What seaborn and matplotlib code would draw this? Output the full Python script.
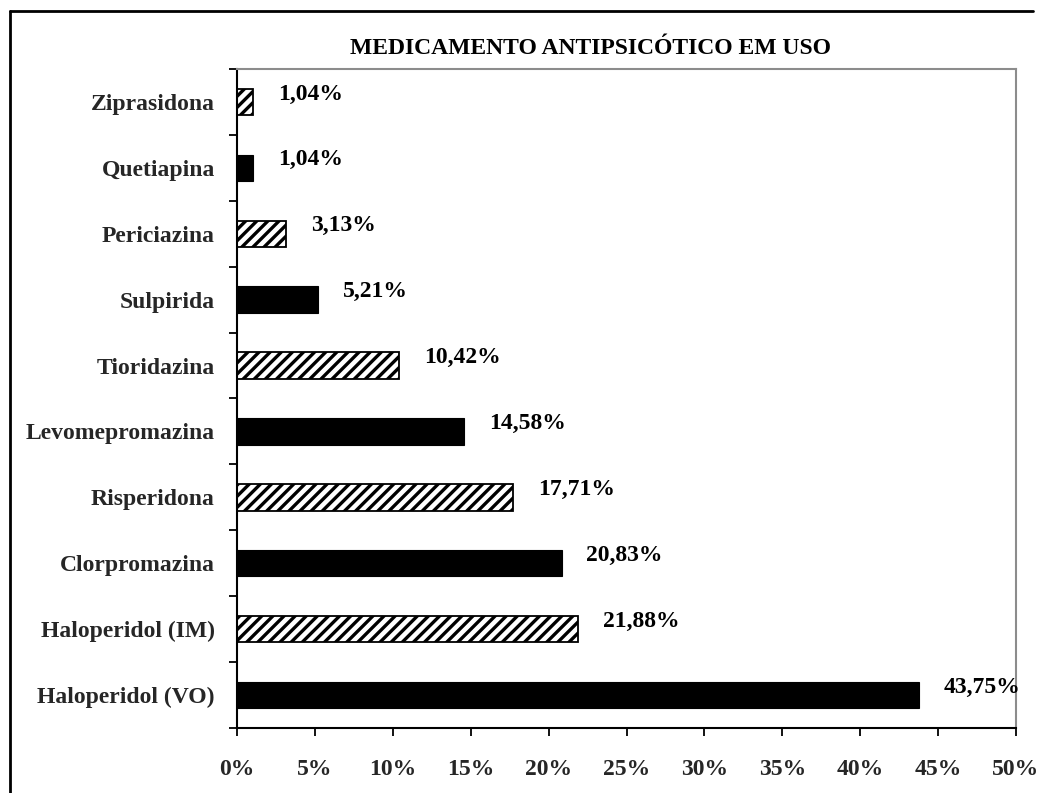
import matplotlib
matplotlib.use("Agg")
import matplotlib.pyplot as plt
import seaborn as sns
import numpy as np
import pandas as pd
from matplotlib.lines import Line2D
from matplotlib.ticker import FixedLocator

# ---------------- data ----------------
categories = ["Ziprasidona", "Quetiapina", "Periciazina", "Sulpirida", "Tioridazina",
              "Levomepromazina", "Risperidona", "Clorpromazina", "Haloperidol (IM)",
              "Haloperidol (VO)"]
values = [1.04, 1.04, 3.13, 5.21, 10.42, 14.58, 17.71, 20.83, 21.88, 43.75]
hatched = [True, False, True, False, True, False, True, False, True, False]
x_ticks = [0, 5, 10, 15, 20, 25, 30, 35, 40, 45, 50]
title = "MEDICAMENTO ANTIPSICÓTICO EM USO"

df = pd.DataFrame({"cat": categories, "val": values})

sns.set_theme(style="white")
plt.rcParams["font.family"] = ["Liberation Serif", "DejaVu Serif"]
plt.rcParams["font.weight"] = "bold"
plt.rcParams["hatch.linewidth"] = 2.4
plt.rcParams["hatch.color"] = "black"

W, H = 1043, 793
fig = plt.figure(figsize=(W / 100, H / 100), dpi=100)
fig.patch.set_facecolor("white")
ax = fig.add_axes([237 / W, 1 - 728 / H, (1016 - 237) / W, (728 - 69) / H])

sns.barplot(data=df, x="val", y="cat", order=categories, orient="h", width=0.4,
            color="black", ax=ax, saturation=1)

for patch, h in zip(ax.patches, hatched):
    if h:
        patch.set_facecolor("white")
        patch.set_hatch("///")
        patch.set_edgecolor("black")
        patch.set_linewidth(1.3)
    else:
        patch.set_facecolor("black")
        patch.set_edgecolor("black")
        patch.set_linewidth(0.8)

ax.set_xlim(0, 50)
ax.set_ylim(len(categories) - 0.5, -0.5)
ax.set_xlabel("")
ax.set_ylabel("")

ax.set_xticks(x_ticks)
ax.set_xticklabels([f"{t}%" for t in x_ticks], fontsize=17, fontweight="bold")
ax.tick_params(axis="x", direction="out", length=6, width=1.3, color="black", pad=16, bottom=True)

ax.set_yticks(range(len(categories)))
ax.set_yticklabels(categories, fontsize=17, fontweight="bold")
ax.tick_params(axis="y", which="major", length=0, pad=16)
ax.yaxis.set_minor_locator(FixedLocator(np.arange(-0.5, len(categories), 1.0)))
ax.tick_params(axis="y", which="minor", direction="out", length=6, width=1.3, color="black", left=True)

for v, i in zip(values, range(len(categories))):
    ax.text(v + 1.6, i - 0.12, f"{v:.2f}".replace(".", ",") + "%", ha="left", va="center",
            fontsize=17, fontweight="bold", color="black")

for side in ["left", "bottom"]:
    ax.spines[side].set_color("black")
    ax.spines[side].set_linewidth(1.5)
for side in ["top", "right"]:
    ax.spines[side].set_visible(True)
    ax.spines[side].set_color("#8c8c8c")
    ax.spines[side].set_linewidth(1.5)
ax.grid(False)

fig.text(591 / W, 1 - 49 / H, title, ha="center", va="center", fontsize=17,
         fontweight="bold", color="black")

# outer chart border (top and left visible)
fig.add_artist(Line2D([10 / W, 1033 / W], [1 - 11 / H, 1 - 11 / H], transform=fig.transFigure,
                      color="black", linewidth=2))
fig.add_artist(Line2D([10 / W, 10 / W], [1 - 11 / H, -0.01], transform=fig.transFigure,
                      color="black", linewidth=2))

fig.savefig("out.png", dpi=100, facecolor="white")
